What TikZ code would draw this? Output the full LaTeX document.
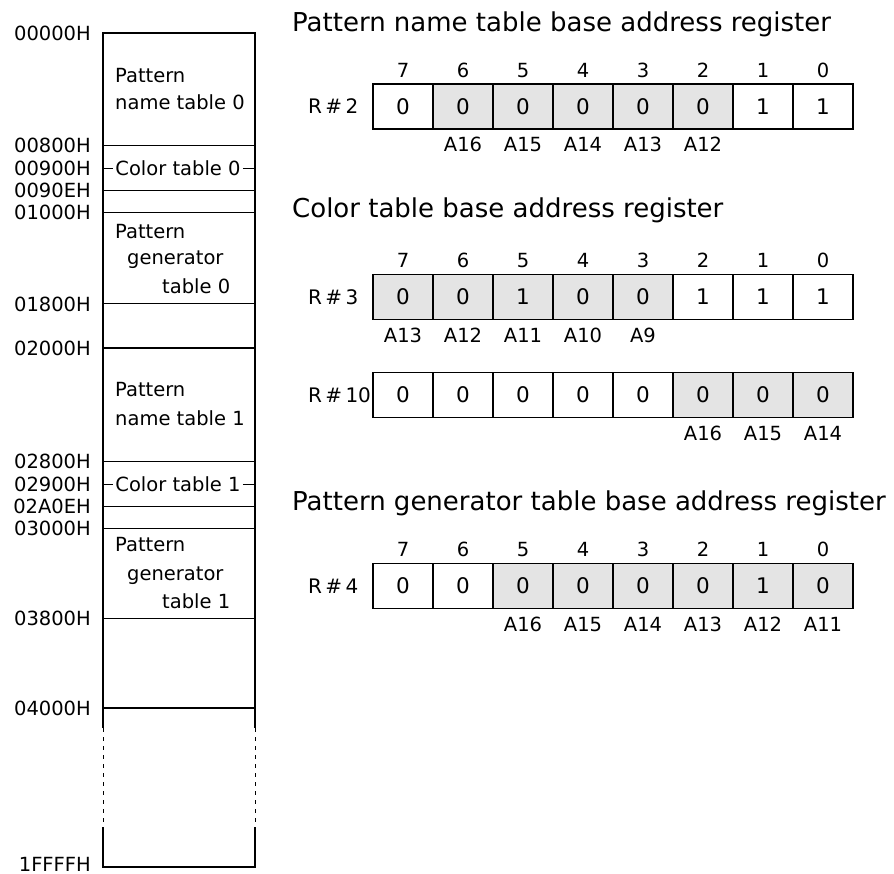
\documentclass[tikz,border=0pt]{standalone}
\usepackage{fontspec}
\setmainfont{DejaVu Sans}
\usepackage{tikz}
\usetikzlibrary{positioning}
\definecolor{bitShade}{HTML}{E4E4E4}

\tikzset{
  wall/.style={line width=2.2pt},
  sep/.style={line width=0.9pt},
  addrlbl/.style={anchor=east, inner sep=0pt, font=\fontsize{19.5}{22}\selectfont},
  blocktxt/.style={anchor=base west, inner sep=0pt, font=\fontsize{19.5}{22}\selectfont},
  ctab/.style={inner sep=2pt, font=\fontsize{19.5}{22}\selectfont},
  regtitle/.style={anchor=base west, inner sep=0pt, font=\fontsize{26}{30}\selectfont},
  regname/.style={anchor=west, inner sep=0pt, font=\fontsize{20}{24}\selectfont},
  cell/.style={draw, line width=1.3pt, minimum width=60pt, minimum height=45pt, inner sep=0pt, font=\fontsize{21.5}{24}\selectfont},
  bitno/.style={inner sep=0pt, text height=14pt, text depth=0pt, font=\fontsize{19.5}{22}\selectfont},
  abit/.style={inner sep=0pt, text height=14pt, text depth=0pt, font=\fontsize{19.5}{22}\selectfont},
}

\begin{document}
\begin{tikzpicture}[x=1pt,y=-1pt]
  \useasboundingbox (0,0) rectangle (894,874);

  % VRAM map
  \draw[wall] (103,728) -- (103,33) -- (255,33) -- (255,728);
  \draw[wall] (103,348) -- (255,348);
  \draw[wall] (103,708) -- (255,708);
  \draw[sep, dash pattern=on 4pt off 5pt] (103,728) -- (103,827) (255,728) -- (255,827);
  \draw[wall] (103,827) -- (103,867) -- (255,867) -- (255,827);
  \foreach \y in {145,190,212,303,461,506,528,618}
    \draw[sep] (103,\y) -- (255,\y);

  \foreach \t/\y in {00000H/33,00800H/145,00900H/168,0090EH/190,01000H/212,01800H/304,
                     02000H/348,02800H/461,02900H/484,02A0EH/506,03000H/528,03800H/618,
                     04000H/708,1FFFFH/864}
    \node[addrlbl] (a\t) at (91,\y) {\t};

  \node[blocktxt] (pn0a) at (115,82.7) {Pattern};
  \node[blocktxt] (pn0b) at (115,109.3) {name table 0};
  \node[blocktxt] (pg0a) at (115,238.3) {Pattern};
  \node[blocktxt] (pg0b) at (127,265) {generator};
  \node[blocktxt] (pg0c) at (162,293.3) {table 0};
  \node[blocktxt] (pn1a) at (115,396.7) {Pattern};
  \node[blocktxt] (pn1b) at (115,425.7) {name table 1};
  \node[blocktxt] (pg1a) at (115,551.7) {Pattern};
  \node[blocktxt] (pg1b) at (127,580.7) {generator};
  \node[blocktxt] (pg1c) at (162,608.3) {table 1};

  \node[ctab] (ct0) at (178,168) {Color table 0};
  \draw[sep] (103,168) -- (ct0.west);
  \draw[sep] (ct0.east) -- (255,168);
  \node[ctab] (ct1) at (178,484) {Color table 1};
  \draw[sep] (103,484) -- (ct1.west);
  \draw[sep] (ct1.east) -- (255,484);

  % R#2
  \node[regtitle] (t2) at (292,32) {Pattern name table base address register};
  \node[regname] (n2) at (308,106.5) {R\,\#\,2};
  \foreach \v/\f [count=\i from 0] in {0/white,0/bitShade,0/bitShade,0/bitShade,0/bitShade,0/bitShade,1/white,1/white}
    \node[cell, fill=\f] (r2c\i) at ({403+60*\i},106.5) {\v};
  \foreach \b [count=\i from 0] in {7,6,5,4,3,2,1,0}
    \node[bitno, above=6pt of r2c\i] (r2b\i) {\b};
  \foreach \a/\i in {A16/1,A15/2,A14/3,A13/4,A12/5}
    \node[abit, below=8pt of r2c\i] (r2a\i) {\a};

  % R#3 and R#10
  \node[regtitle] (t3) at (292,218) {Color table base address register};
  \node[regname] (n3) at (308,297) {R\,\#\,3};
  \foreach \v/\f [count=\i from 0] in {0/bitShade,0/bitShade,1/bitShade,0/bitShade,0/bitShade,1/white,1/white,1/white}
    \node[cell, fill=\f] (r3c\i) at ({403+60*\i},297) {\v};
  \foreach \b [count=\i from 0] in {7,6,5,4,3,2,1,0}
    \node[bitno, above=6pt of r3c\i] (r3b\i) {\b};
  \foreach \a/\i in {A13/0,A12/1,A11/2,A10/3,A9/4}
    \node[abit, below=8pt of r3c\i] (r3a\i) {\a};

  \node[regname] (n10) at (308,395) {R\,\#\,10};
  \foreach \v/\f [count=\i from 0] in {0/white,0/white,0/white,0/white,0/white,0/bitShade,0/bitShade,0/bitShade}
    \node[cell, fill=\f] (r10c\i) at ({403+60*\i},395) {\v};
  \foreach \a/\i in {A16/5,A15/6,A14/7}
    \node[abit, below=8pt of r10c\i] (r10a\i) {\a};

  % R#4
  \node[regtitle] (t4) at (292,510) {Pattern generator table base address register};
  \node[regname] (n4) at (308,586) {R\,\#\,4};
  \foreach \v/\f [count=\i from 0] in {0/white,0/white,0/bitShade,0/bitShade,0/bitShade,0/bitShade,1/bitShade,0/bitShade}
    \node[cell, fill=\f] (r4c\i) at ({403+60*\i},586) {\v};
  \foreach \b [count=\i from 0] in {7,6,5,4,3,2,1,0}
    \node[bitno, above=6pt of r4c\i] (r4b\i) {\b};
  \foreach \a/\i in {A16/2,A15/3,A14/4,A13/5,A12/6,A11/7}
    \node[abit, below=8pt of r4c\i] (r4a\i) {\a};
\end{tikzpicture}
\end{document}
